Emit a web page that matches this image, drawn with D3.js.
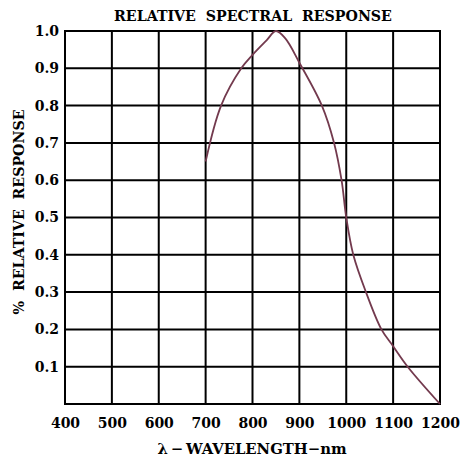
<!DOCTYPE html>
<html><head><meta charset="utf-8">
<script src="https://cdn.jsdelivr.net/npm/d3@7"></script>
<style>
body{margin:0;background:#fff;}
text{font-family:"DejaVu Serif",serif;font-weight:bold;fill:#000;}
</style></head>
<body><svg id="c" width="465" height="459"></svg>
<script>
const wavelength = [700, 733, 776, 800, 830, 850, 870, 900, 948, 974, 990, 1000, 1015, 1042, 1075, 1100, 1131, 1200];
const response   = [0.65, 0.80, 0.90, 0.936, 0.975, 1.0, 0.98, 0.915, 0.80, 0.70, 0.60, 0.50, 0.40, 0.30, 0.20, 0.155, 0.10, 0.0];
const xTicks = [400, 500, 600, 700, 800, 900, 1000, 1100, 1200];
const yTicks = [0.1, 0.2, 0.3, 0.4, 0.5, 0.6, 0.7, 0.8, 0.9, 1.0];
const title = "RELATIVE  SPECTRAL  RESPONSE";
const xTitle = "\u03BB\u2009\u2212\u2009WAVELENGTH\u2212nm";
const yTitle = "%  RELATIVE  RESPONSE";

const svg = d3.select("#c");
const L = 65, R = 440, T = 31, B = 404;
const x = d3.scaleLinear().domain([400, 1200]).range([L, R]);
const y = d3.scaleLinear().domain([0, 1]).range([B, T]);

const g = svg.append("g");
g.selectAll(".vx").data(xTicks).join("line")
  .attr("x1", d => x(d)).attr("x2", d => x(d)).attr("y1", T).attr("y2", B)
  .attr("stroke", "#000").attr("stroke-width", 2);
g.selectAll(".hy").data([0].concat(yTicks)).join("line")
  .attr("x1", L - 1).attr("x2", R + 1).attr("y1", d => y(d)).attr("y2", d => y(d))
  .attr("stroke", "#000").attr("stroke-width", 2);

const xAxis = svg.append("g").attr("transform", `translate(0,${B})`)
  .call(d3.axisBottom(x).tickValues(xTicks).tickSize(0).tickPadding(14).tickFormat(d3.format("d")));
xAxis.select(".domain").remove();
xAxis.selectAll("text").attr("font-size", 14).attr("font-family", "DejaVu Serif").attr("font-weight", "bold").attr("fill", "#000");

const yAxis = svg.append("g").attr("transform", `translate(${L},0)`)
  .call(d3.axisLeft(y).tickValues(yTicks).tickSize(0).tickPadding(6).tickFormat(d3.format(".1f")));
yAxis.select(".domain").remove();
yAxis.selectAll("text").attr("font-size", 14).attr("font-family", "DejaVu Serif").attr("font-weight", "bold").attr("fill", "#000");

const line = d3.line().x((d, i) => x(wavelength[i])).y(d => y(d)).curve(d3.curveCatmullRom.alpha(0.5));
svg.append("path").datum(response).attr("d", line)
  .attr("fill", "none").attr("stroke", "#733a4e").attr("stroke-width", 1.8);

svg.append("text").attr("x", 253).attr("y", 21).attr("text-anchor", "middle")
  .attr("font-size", 14.2).style("white-space", "pre").text(title);
svg.append("text").attr("x", 252).attr("y", 454).attr("text-anchor", "middle")
  .attr("font-size", 14.8).style("white-space", "pre").text(xTitle);
svg.append("text").attr("transform", "translate(24,212) rotate(-90)").attr("text-anchor", "middle")
  .attr("font-size", 14.2).style("white-space", "pre").text(yTitle);
</script></body></html>
